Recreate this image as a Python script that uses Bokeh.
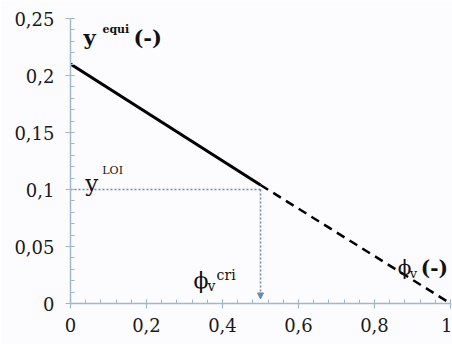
from bokeh.plotting import figure
from bokeh.models import FixedTicker, Range1d, Arrow, NormalHead
from bokeh.core.properties import value
from bokeh.embed import file_html
from bokeh.resources import INLINE

# ---- data ----
x_solid = [0.0, 0.5]
y_solid = [0.21, 0.104]
x_dash = [0.5, 1.0]
y_dash = [0.104, 0.0]
phi_cri = 0.5
y_loi = 0.1

x_ticks = [0.0, 0.2, 0.4, 0.6, 0.8, 1.0]
x_tick_labels = ["0", "0,2", "0,4", "0,6", "0,8", "1"]
y_ticks = [0.0, 0.05, 0.1, 0.15, 0.2, 0.25]
y_tick_labels = ["0", "0,05", "0,1", "0,15", "0,2", "0,25"]

SERIF = "DejaVu Serif"
AXIS_COLOR = "#9fb8cc"
DOT_COLOR = "#6a8aa8"
BG = "#fcfcfe"

p = figure(width=452, height=344, x_range=Range1d(0, 1), y_range=Range1d(0, 0.25),
           output_backend="svg", toolbar_location=None,
           min_border_left=70, min_border_right=2, min_border_top=18, min_border_bottom=41,
           background_fill_color=BG, border_fill_color=BG)
p.grid.visible = False
p.outline_line_color = None

x_minor = [round(i * 0.04, 2) for i in range(26)]
y_minor = [round(i * 0.01, 2) for i in range(26)]
p.xaxis.ticker = FixedTicker(ticks=x_ticks, minor_ticks=x_minor)
p.yaxis.ticker = FixedTicker(ticks=y_ticks, minor_ticks=y_minor)
p.xaxis.major_label_overrides = {t: l for t, l in zip(x_ticks, x_tick_labels)}
p.yaxis.major_label_overrides = {t: l for t, l in zip(y_ticks, y_tick_labels)}

for ax in (p.xaxis[0], p.yaxis[0]):
    ax.axis_line_color = AXIS_COLOR
    ax.axis_line_width = 1.5
    ax.major_tick_line_color = AXIS_COLOR
    ax.minor_tick_line_color = AXIS_COLOR
    ax.major_tick_line_width = 1.2
    ax.minor_tick_line_width = 1
    ax.major_tick_in = 4
    ax.major_tick_out = 5
    ax.minor_tick_in = 4
    ax.minor_tick_out = 0
    ax.major_label_text_font = SERIF
    ax.major_label_text_font_size = "18px"
    ax.major_label_text_color = "#1a1a1a"
p.xaxis.major_label_standoff = 9
p.yaxis.major_label_standoff = 11

# curves
p.line(x_solid, y_solid, line_color="black", line_width=3)
p.line(x_dash, y_dash, line_color="black", line_width=2.5, line_dash="9 6")

# dotted guides
p.line([0.0, phi_cri], [y_loi, y_loi], line_color=DOT_COLOR, line_width=1.6, line_dash="2 2")
p.add_layout(Arrow(end=NormalHead(size=6, fill_color=DOT_COLOR, line_color=DOT_COLOR),
                   x_start=phi_cri, y_start=y_loi, x_end=phi_cri, y_end=0.004,
                   line_color=DOT_COLOR, line_width=1.6, line_dash="2 2"))


def txt(x, y, s, size, bold=False, dx=0, dy=0, font=SERIF):
    p.text(x=[x], y=[y], text=[s], text_font=value(font), text_font_size=size,
           text_font_style="bold" if bold else "normal", text_color="#111111",
           text_baseline="alphabetic", text_align="left", x_offset=dx, y_offset=dy)


# y^equi (-)
ax_, ay_ = 0.034, 0.233
txt(ax_, ay_, "y", "21px", True)
txt(ax_, ay_, "equi", "11px", True, dx=19, dy=-8)
txt(ax_, ay_, "(-)", "21px", True, dx=50)

# y^LOI
lx, ly = 0.039, 0.106
txt(lx, ly, "y", "23px")
txt(lx, ly, "LOI", "11px", dx=17, dy=-12)

# phi_v^cri
cx, cy = 0.324, 0.020
txt(cx, cy, "ϕ", "22px")
txt(cx, cy, "v", "14px", dx=14, dy=5)
txt(cx, cy, "cri", "14px", dx=23, dy=-6)

# phi_v (-)
fx, fy = 0.861, 0.031
txt(fx, fy, "ϕ", "20px")
txt(fx, fy, "v", "13px", dx=12, dy=5)
txt(fx, fy, "(-)", "20px", True, dx=23)

open("out.html", "w").write(file_html(p, INLINE))
